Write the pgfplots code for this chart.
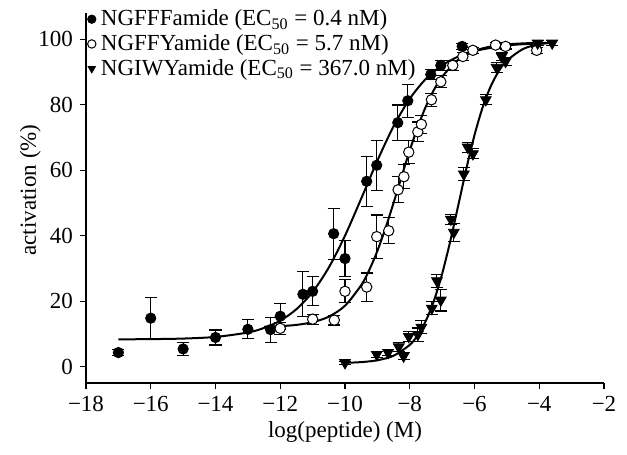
\documentclass[border=0pt]{standalone}
\usepackage{pgfplots}
\pgfplotsset{compat=1.18}
\usepackage{fontspec}
\setmainfont{Liberation Serif}

% fitted curves
\pgfplotstableread{
x y
-17 8.33
-16 8.40
-15 8.57
-14 9.07
-13 10.42
-12.5 11.82
-12 14.04
-11.5 17.55
-11 22.81
-10.5 30.28
-10 39.99
-9.5 51.3
-9 62.9
-8.5 73.4
-8 81.8
-7.5 87.9
-7 92.0
-6.5 94.7
-6 96.4
-5 98.1
-4 98.7
-3.5 98.8
}\fitA
\pgfplotstableread{
x y
-12.5 12.17
-12 12.36
-11.5 12.75
-11 13.57
-10.5 15.26
-10 18.60
-9.5 24.87
-9.25 29.53
-9 35.34
-8.75 42.26
-8.5 49.99
-8.25 58.10
-8 66.04
-7.75 73.27
-7.5 79.51
-7.25 84.58
-7 88.54
-6.5 93.72
-6 96.42
-5.5 97.76
-5 98.41
-4.5 98.72
-4 98.87
-3.5 98.95
}\fitB
\pgfplotstableread{
x y
-10 1.15
-9.5 1.38
-9 1.94
-8.5 3.33
-8 6.65
-7.75 9.66
-7.5 14.05
-7.25 20.20
-7 28.32
-6.75 38.25
-6.5 49.34
-6.25 60.53
-6 70.71
-5.75 79.14
-5.5 85.59
-5.25 90.24
-5 93.44
-4.5 97.0
-4 98.49
-3.5 99.09
}\fitC

% measured points: x, mean, error
\pgfplotstableread{
x y e
-17 4.3 1.0
-16 14.8 6.4
-15 5.4 2.0
-14 8.9 2.3
-13 11.4 2.9
-12.3 11.3 3.8
-12 15.4 4.0
-11.3 22.1 6.9
-11 23.0 4.4
-10.35 40.6 7.8
-10 33.0 5.4
-9.33 56.6 7.7
-9.02 61.5 7.6
-8.37 74.5 5.4
-8.06 81.2 5.0
-7.35 89.2 1.6
-7.04 92.0 1.6
-6.38 97.8 1.0
}\dataA
\pgfplotstableread{
x y e
-12 11.7 1.8
-11 14.5 1.5
-10.33 14.2 1.5
-10 23.0 3.5
-9.33 24.3 4.3
-9.02 39.7 6.6
-8.65 41.5 4.0
-8.36 54.0 4.0
-8.18 58.0 3.6
-8.03 65.5 3.6
-7.75 71.7 3.0
-7.64 74.0 2.8
-7.33 81.5 2.0
-7.04 87.0 1.8
-6.67 92.0 1.5
-6.36 94.7 1.2
-6.05 96.6 1.0
-5.35 98.2 0.8
-5.04 97.8 0.8
-4.08 96.6 1.0
}\dataB
\pgfplotstableread{
x y e
-10 1.2 0.5
-9.02 3.7 1.0
-8.67 4.3 1.0
-8.34 6.0 1.5
-8.19 3.2 1.0
-8.03 9.2 1.5
-7.75 9.8 2.0
-7.64 12.0 2.0
-7.32 17.8 2.0
-7.16 26.2 2.0
-7.04 20.3 3.3
-6.73 45.0 1.5
-6.64 41.0 2.8
-6.33 58.8 2.0
-6.21 67.0 1.5
-6.05 65.0 1.5
-5.65 81.5 1.5
-5.32 91.4 1.5
-5.16 94.7 1.2
-5.04 93.2 1.2
-4.05 98.8 0.8
-3.6 98.8 0.8
}\dataC

\begin{document}
\begin{tikzpicture}[font=\fontsize{11.5bp}{13.8bp}\selectfont]
\useasboundingbox (-43bp,-36bp) rectangle (270.5bp,191.5bp);
\begin{axis}[
    width=259bp, height=185bp, scale only axis,
    xmin=-18, xmax=-2, ymin=-5, ymax=108,
    axis lines*=left,
    axis line style={line width=0.6bp},
    tick style={line width=0.6bp, black},
    tick align=outside, major tick length=3bp,
    xtick={-18,-16,...,-2},
    xticklabels={−18,−16,−14,−12,−10,−8,−6,−4,−2},
    ytick={0,20,...,100},
    yticklabels={0,20,40,60,80,100},
    xlabel={log(peptide) (M)},
    ylabel={activation (\%)},
    xlabel style={yshift=2bp},
    ylabel style={yshift=-8bp, xshift=4bp},
    legend cell align=left,
    legend style={draw=none, fill=none, at={(-0.01,1.025)}, anchor=north west,
        nodes={inner sep=0.8bp}, row sep=1.3bp},
    legend image code/.code={\draw[#1, only marks, mark size=2.1bp] plot coordinates {(0bp,0bp)};
        \path (-2.1bp,0bp) (3.6bp,0bp);},
    error bars/error bar style={line width=0.55bp, black},
    error bars/error mark options={rotate=90, mark size=3bp, line width=0.55bp, black},
]
\addplot[black, line width=1bp, smooth, forget plot] table {\fitA};
\addplot[black, line width=1bp, smooth, forget plot] table {\fitB};
\addplot[black, line width=1bp, smooth, forget plot] table {\fitC};

\addplot[only marks, mark=*, mark size=2.6bp, mark options={fill=black, draw=black},
    error bars/.cd, y dir=both, y explicit]
    table[x=x, y=y, y error=e] {\dataA};
\addlegendentry{NGFFFamide (EC\textsubscript{50} = 0.4 nM)}
\addplot[only marks, mark=*, mark size=2.6bp, mark options={fill=white, draw=black, line width=0.5bp},
    error bars/.cd, y dir=both, y explicit]
    table[x=x, y=y, y error=e] {\dataB};
\addlegendentry{NGFFYamide (EC\textsubscript{50} = 5.7 nM)}
\addplot[only marks, mark=triangle*, mark size=3.1bp, mark options={fill=black, draw=black, rotate=180},
    error bars/.cd, y dir=both, y explicit]
    table[x=x, y=y, y error=e] {\dataC};
\addlegendentry{NGIWYamide (EC\textsubscript{50} = 367.0 nM)}
\end{axis}
\end{tikzpicture}
\end{document}
